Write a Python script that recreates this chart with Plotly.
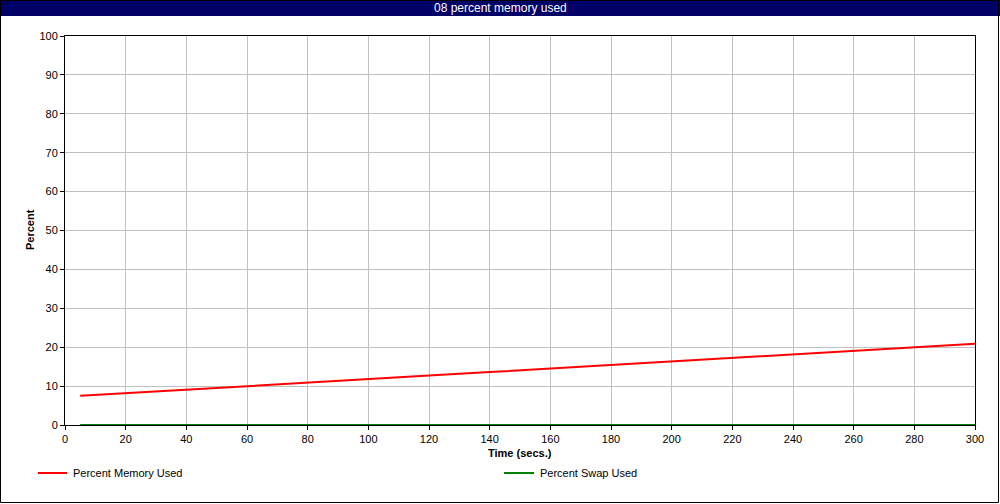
import plotly.graph_objects as go

time_secs = [5, 20, 40, 60, 80, 100, 120, 140, 160, 180, 200, 220, 240, 260, 280, 300]
mem_used = [7.5, 8.2, 9.1, 10.0, 10.9, 11.8, 12.7, 13.6, 14.5, 15.4, 16.4, 17.3, 18.2, 19.1, 20.0, 20.9]
swap_used = [0, 0, 0, 0, 0, 0, 0, 0, 0, 0, 0, 0, 0, 0, 0, 0]
series_names = ["Percent Memory Used", "Percent Swap Used"]
series_colors = ["#ff0000", "#008000"]
title_text = "08 percent memory used"

W, H = 1000, 504
L, R, T, B = 65, 25, 36, 79
pw, ph = W - L - R, H - T - B

def px(x):
    return (x - L) / pw

def py(y):
    return (H - B - y) / ph

fig = go.Figure()
for name, vals, col in zip(series_names, [mem_used, swap_used], series_colors):
    fig.add_trace(go.Scatter(x=time_secs, y=vals, mode="lines", name=name,
                             line=dict(color=col, width=2), showlegend=False))

tickfont = dict(family="Liberation Sans, Arial, sans-serif", size=11, color="black")
axis_common = dict(showline=True, linecolor="black", linewidth=1, mirror=True,
                   showgrid=True, gridcolor="#c0c0c0", gridwidth=1, zeroline=False,
                   ticks="outside", ticklen=4, tickcolor="black", tickfont=tickfont)

fig.update_xaxes(range=[0, 300], dtick=20, tick0=0, **axis_common)
fig.update_yaxes(range=[0, 100], dtick=10, tick0=0, **axis_common)

shapes = [
    dict(type="rect", xref="paper", yref="paper", x0=px(0), x1=px(1000), y0=py(16), y1=py(0),
         fillcolor="#000066", line=dict(width=0), layer="below"),
    dict(type="rect", xref="paper", yref="paper", x0=px(0.5), x1=px(998.5), y0=py(502.5), y1=py(0.5),
         fillcolor="rgba(0,0,0,0)", line=dict(color="black", width=1)),
    dict(type="line", xref="paper", yref="paper", x0=px(38), x1=px(67), y0=py(473), y1=py(473),
         line=dict(color=series_colors[0], width=2)),
    dict(type="line", xref="paper", yref="paper", x0=px(504), x1=px(534), y0=py(473), y1=py(473),
         line=dict(color=series_colors[1], width=2)),
]

annotations = [
    dict(text=title_text, xref="paper", yref="paper", x=px(500), y=py(8), showarrow=False,
         xanchor="center", yanchor="middle",
         font=dict(family="Liberation Sans Narrow, Arial Narrow, sans-serif", size=12, color="white")),
    dict(text="<b>Time (secs.)</b>", xref="paper", yref="paper", x=px(520), y=py(453), showarrow=False,
         xanchor="center", yanchor="middle",
         font=dict(family="Liberation Sans, Arial, sans-serif", size=11, color="black")),
    dict(text="<b>Percent</b>", xref="paper", yref="paper", x=px(30), y=py(230), showarrow=False,
         xanchor="center", yanchor="middle", textangle=-90,
         font=dict(family="Liberation Sans, Arial, sans-serif", size=11, color="black")),
    dict(text=series_names[0], xref="paper", yref="paper", x=px(71), y=py(473), showarrow=False,
         xanchor="left", yanchor="middle",
         font=dict(family="Liberation Sans Narrow, Arial Narrow, sans-serif", size=11, color="black")),
    dict(text=series_names[1], xref="paper", yref="paper", x=px(538), y=py(473), showarrow=False,
         xanchor="left", yanchor="middle",
         font=dict(family="Liberation Sans Narrow, Arial Narrow, sans-serif", size=11, color="black")),
]

fig.update_layout(width=W, height=H, margin=dict(l=L, r=R, t=T, b=B, autoexpand=False),
                  paper_bgcolor="white", plot_bgcolor="white", showlegend=False,
                  shapes=shapes, annotations=annotations)

fig.write_html("out.html", config={"displayModeBar": False},
               post_script="document.body.style.margin='0';document.body.style.overflow='hidden';")
